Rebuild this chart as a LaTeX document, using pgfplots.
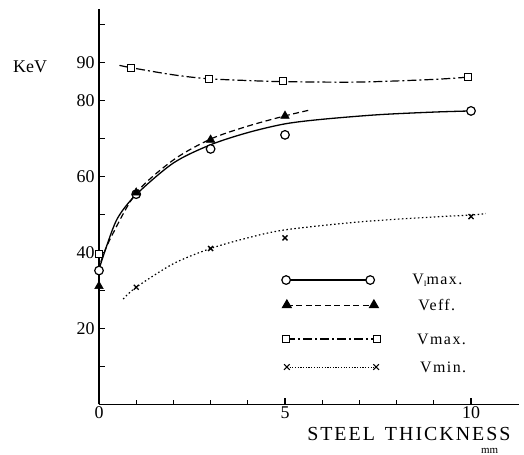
\documentclass[border=0pt]{standalone}
\usepackage{pgfplots}
\pgfplotsset{compat=1.18}
\usepackage{fontspec}
\setmainfont{Liberation Serif}
\newfontfamily\legfont[LetterSpace=9]{Liberation Serif}
\newfontfamily\axfont[LetterSpace=10]{Liberation Serif}
\begin{document}
\begin{tikzpicture}
\path[use as bounding box] (-99bp,-50.7bp) rectangle (425bp,404.3bp);
\begin{axis}[
 anchor=origin, at={(0,0)},
 x=37.2bp, y=3.8bp,
 xmin=0, xmax=11.3, ymin=0, ymax=104,
 axis lines=left,
 axis line style={-, line width=1.5bp},
 clip=false,
 xtick={0,5,10}, xticklabels={0,5,10},
 minor xtick={1,2,3,4,6,7,8,9},
 ytick={10,20,...,100}, yticklabels={,20,,40,,60,,80,90,},
 tick align=inside, major tick length=6bp, minor tick length=4bp,
 tick style={line width=1.2bp, black},
 xticklabel style={font=\fontsize{18}{18}\selectfont, yshift=1bp},
 yticklabel style={font=\fontsize{18}{18}\selectfont, xshift=-1bp},
 /pgf/number format/assume math mode=true,
]
% curves
\addplot[black, line width=1.3bp, smooth, tension=0.5] coordinates {(0,35.5) (0.2,41.5) (0.5,49) (1,55.2) (2,63.5) (3,68.3) (4,71.5) (5,73.8) (6,75) (7.5,76.2) (9,76.9) (10,77.2)};
\addplot[black, line width=1.2bp, smooth, tension=0.5, dash pattern=on 6bp off 3.5bp] coordinates {(0.05,37.5) (0.3,43.5) (1,55.6) (2,64.3) (3,69.8) (4,73.2) (5,75.9) (5.65,77.4)};
\addplot[black, line width=1.2bp, smooth, tension=0.5, dash pattern=on 9bp off 3bp on 2bp off 3bp] coordinates {(0.55,89.2) (0.85,88.6) (2,86.7) (2.9,85.7) (4,85.2) (5,84.9) (7,84.8) (9,85.5) (9.93,86.1)};
\addplot[black, line width=1.2bp, smooth, tension=0.5, dash pattern=on 1.5bp off 2.5bp] coordinates {(0.65,27.7) (1,30.8) (2,37) (3,41) (4,43.8) (5,45.9) (7,48) (9,49.3) (10,49.8) (10.4,50.2)};
% marks
\addplot[only marks, mark=*, mark size=4.3bp, mark options={line width=1.2bp, draw=black, fill=white}] coordinates {(0,35.2) (1,55.3) (3,67.2) (5,70.9) (10,77.2)};
\addplot[only marks, mark=triangle*, mark size=5bp, mark options={draw=black, fill=black}] coordinates {(0,31.1) (1,55.7) (3,69.6) (5,75.9)};
\addplot[only marks, mark=square*, mark size=3.5bp, mark options={line width=1.2bp, draw=black, fill=white}] coordinates {(0,39.5) (0.85,88.6) (2.95,85.7) (4.95,85.1) (9.93,86.1)};
\addplot[only marks, mark=x, mark size=3.5bp, mark options={line width=1.3bp, draw=black}] coordinates {(1,30.8) (3,41) (5,43.8) (10,49.4)};
% legend samples
\addplot[black, line width=1.2bp, mark=*, mark size=4.3bp, mark options={solid, fill=white}] coordinates {(5.03,32.7) (7.29,32.7)};
\addplot[black, line width=1.2bp, dash pattern=on 6bp off 3.5bp, mark=triangle*, mark size=5bp, mark options={solid, fill=black}] coordinates {(5.05,26.1) (7.39,26.1)};
\addplot[black, line width=1.2bp, dash pattern=on 9bp off 3bp on 2bp off 3bp, mark=square*, mark size=3.5bp, mark options={solid, fill=white}] coordinates {(5.03,17.2) (7.47,17.2)};
\addplot[black, line width=1bp, dash pattern=on 1.2bp off 1.5bp, mark=x, mark size=4bp, mark options={solid}] coordinates {(5.05,9.8) (7.45,9.8)};
% legend texts
\node[anchor=west, font=\legfont\fontsize{16}{16}\selectfont] at (axis cs:8.33,32.7) {V\raisebox{-0.3ex}{\fontsize{8}{8}\selectfont I}max.};
\node[anchor=west, font=\legfont\fontsize{16}{16}\selectfont] at (axis cs:8.49,26.1) {Veff.};
\node[anchor=west, font=\legfont\fontsize{16}{16}\selectfont] at (axis cs:8.46,17.2) {Vmax.};
\node[anchor=west, font=\legfont\fontsize{16}{16}\selectfont] at (axis cs:8.54,9.8) {Vmin.};
% labels
\node[font=\fontsize{18}{18}\selectfont] at (axis cs:-1.85,88.8) {KeV};
\node[font=\axfont\fontsize{20}{20}\selectfont] at (axis cs:8.33,-7.9) {STEEL\hspace{3bp} THICKNESS};
\node[font=\fontsize{11}{11}\selectfont] at (axis cs:10.5,-12.3) {mm};
\end{axis}
\end{tikzpicture}
\end{document}
